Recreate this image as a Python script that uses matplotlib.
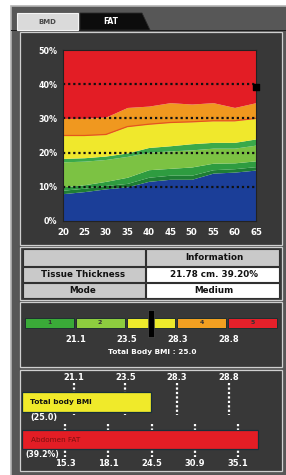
import matplotlib.pyplot as plt
import numpy as np
from matplotlib.patches import Rectangle, Polygon

W, H = 286, 475
plt.rcParams['font.family'] = ['DejaVu Sans']
plt.rcParams['font.weight'] = 'bold'

# ── data ─────────────────────────────────────────────────────────────────────
ages = [20, 25, 30, 35, 40, 45, 50, 55, 60, 65]
# upper edge of each band (body fat %), bottom band first
blue_top    = [8.0, 8.6, 9.4, 10.0, 11.6, 12.2, 12.2, 14.0, 14.3, 14.9]
dkgreen_top = [9.0, 9.6, 10.4, 11.0, 12.8, 13.4, 13.4, 15.0, 15.3, 15.9]
green_top   = [10.0, 10.6, 11.6, 12.8, 15.0, 15.4, 15.8, 16.9, 17.0, 17.6]
ltgreen_top = [17.3, 17.5, 18.0, 18.9, 20.1, 20.5, 20.8, 21.3, 21.3, 22.2]
strip_top   = [18.3, 18.5, 19.0, 19.9, 21.5, 22.0, 22.6, 23.0, 23.0, 24.0]
yellow_top  = [25.0, 25.0, 25.3, 27.6, 28.3, 28.8, 29.0, 29.3, 29.3, 30.0]
orange_top  = [30.0, 30.0, 30.4, 33.2, 33.6, 34.6, 34.2, 34.6, 33.2, 34.6]
red_top     = [50.0] * len(ages)
fat_yticks = [0, 10, 20, 30, 40, 50]
measured_fat = 39.2

table_rows = [("", "Information"),
              ("Tissue Thickness", "21.78 cm. 39.20%"),
              ("Mode", "Medium")]

bmi_classes = ["1", "2", "3", "4", "5"]
bmi_bounds = ["21.1", "23.5", "28.3", "28.8"]
bmi_value = 25.0
bmi_marker_pos = 2.48      # on the class scale (one unit per class)

fat_ticks = ["15.3", "18.1", "24.5", "30.9", "35.1"]
bmi_bar_pos = 1.5          # bar end, on the tick scale
fat_bar_pos = 4.45
fat_value = 39.2

# ── styles ───────────────────────────────────────────────────────────────────
band_colors = ["#1b3e98", "#1e7d34", "#2e9c40", "#7cc243", "#3aa94a",
               "#f0e82c", "#f0981f", "#e31d25"]
class_colors = ["#3aaa38", "#8dcd3f", "#ecea2c", "#f1a021", "#e5202a"]
PANEL = "#383838"
FRAME = "#575757"
EDGE = "#cfcfcf"


def px_axes(x0, y0, x1, y1):
    return fig.add_axes([x0 / W, 1 - y1 / H, (x1 - x0) / W, (y1 - y0) / H])


fig = plt.figure(figsize=(W / 100, H / 100), dpi=100)
bg = fig.add_axes([0, 0, 1, 1])
bg.set_xlim(0, W)
bg.set_ylim(H, 0)
bg.axis("off")

# frame, tabs
bg.add_patch(Rectangle((11, 6), 280, 475, fc=FRAME, ec="#b4b4b4", lw=1.2))
bg.add_patch(Rectangle((11, 29.5), 280, 1.5, fc="#1e1e1e", lw=0))
bg.add_patch(Rectangle((17, 13), 61, 17, fc="#dadada", ec="#f4f4f4", lw=0.8))
bg.text(47, 22, "BMD", ha="center", va="center", fontsize=5, color="#4a4a4a")
bg.add_patch(Polygon([(80, 13), (142, 13), (150, 30), (80, 30)],
                     fc="#0c0c0c", ec="#2a2a2a", lw=0.6))
bg.text(111, 21.5, "FAT", ha="center", va="center", fontsize=5.5, color="white")

# panels
for (y0, y1) in [(32, 245), (247, 300), (302, 367), (370, 471)]:
    bg.add_patch(Rectangle((20, y0), 262, y1 - y0, fc=PANEL, ec=EDGE, lw=0.9))

# ── fat % by age chart ───────────────────────────────────────────────────────
ax = px_axes(63, 50, 256, 221)
tops = [blue_top, dkgreen_top, green_top, ltgreen_top, strip_top,
        yellow_top, orange_top, red_top]
lower = np.zeros(len(ages))
for top, c in zip(tops, band_colors):
    ax.fill_between(ages, lower, top, color=c, lw=0)
    lower = np.array(top)
ax.plot(ages, yellow_top, color="#e4561c", lw=0.9)
for y in fat_yticks[1:-1]:
    ax.axhline(y, color="#111111", lw=1.6, ls=(0, (1, 1.3)))
ax.scatter([ages[-1]], [measured_fat], marker="s", s=14, color="black",
           clip_on=False, zorder=5)
ax.set_xlim(ages[0], ages[-1])
ax.set_ylim(fat_yticks[0], fat_yticks[-1])
ax.set_xticks(ages)
ax.set_xticklabels([str(a) for a in ages], fontsize=6.2, color="white")
ax.set_yticks(fat_yticks)
ax.set_yticklabels([f"{v}%" for v in fat_yticks], fontsize=5.8, color="white")
ax.tick_params(length=0, pad=5)
ax.tick_params(axis="y", pad=4)
for s in ax.spines.values():
    s.set_color("#222222")
    s.set_linewidth(0.8)

# ── information table ────────────────────────────────────────────────────────
row_y = [(249, 266), (267, 282), (283, 298)]
for i, ((left, right), (y0, y1)) in enumerate(zip(table_rows, row_y)):
    right_fc = "#c9c9c9" if i == 0 else "white"
    bg.add_patch(Rectangle((23, y0), 122, y1 - y0, fc="#c9c9c9", ec="#303030", lw=0.8))
    bg.add_patch(Rectangle((146, y0), 133, y1 - y0, fc=right_fc, ec="#303030", lw=0.8))
    bg.text(83, (y0 + y1) / 2, left, ha="center", va="center", fontsize=6.3, color="#111111")
    bg.text(214, (y0 + y1) / 2, right, ha="center", va="center", fontsize=6.3, color="#111111")

# ── BMI class scale ──────────────────────────────────────────────────────────
bx = px_axes(25, 306, 279, 346)
bx.set_xlim(0, len(bmi_classes))
bx.set_ylim(40, 0)
bx.axis("off")
bx.barh([17], [0.96] * len(bmi_classes), left=np.arange(len(bmi_classes)),
        height=10, align="center", color=class_colors, edgecolor="#1f2f2f", lw=0.7)
for i, lab in enumerate(bmi_classes):
    bx.text(i + 0.48, 17, lab, ha="center", va="center", fontsize=4.5, color="#333333")
for i, lab in enumerate(bmi_bounds):
    bx.text(i + 1, 33, lab, ha="center", va="center", fontsize=6, color="white")
bx.add_patch(Rectangle((bmi_marker_pos - 0.05, 4), 0.1, 27, fc="black", ec="#555555",
                       lw=0.4, clip_on=False, zorder=5))
bg.text(152, 352, f"Total Body BMI : {bmi_value}", ha="center", va="center",
        fontsize=5.3, color="white")

# ── bar comparison ───────────────────────────────────────────────────────────
top = px_axes(22, 372, 280.5, 421)
top.set_xlim(-1, len(bmi_bounds))
top.set_ylim(49, 0)
top.axis("off")
for i, lab in enumerate(bmi_bounds):
    top.text(i, 6, lab, ha="center", va="center", fontsize=6, color="white")
    top.vlines(i, 11, 43, color="white", lw=1.6, ls=(0, (1, 1)), zorder=1)
top.barh([30], [bmi_bar_pos + 1], left=-1, height=20, color="#f0ea2a",
         edgecolor="#17303a", lw=0.9, zorder=3)
top.text(-0.84, 30, "Total body BMI", ha="left", va="center", fontsize=5.3,
         color="#111111", zorder=4)
top.text(-0.84, 45.5, f"({bmi_value})", ha="left", va="center", fontsize=5.8,
         color="white", zorder=4)

bot = px_axes(22, 421, 281.5, 470)
bot.set_xlim(-1, len(fat_ticks))
bot.set_ylim(49, 0)
bot.axis("off")
for i, lab in enumerate(fat_ticks):
    bot.vlines(i, 3, 36, color="white", lw=1.6, ls=(0, (1, 1)), zorder=1)
    bot.text(i, 42, lab, ha="center", va="center", fontsize=6, color="white")
bot.barh([18.5], [fat_bar_pos + 1], left=-1, height=19, color="#e31d25",
         edgecolor="#17303a", lw=0.9, zorder=3)
bot.text(-0.8, 18.5, "Abdomen FAT", ha="left", va="center", fontsize=5.2,
         color="#7a1010", weight="normal", zorder=4)
bot.text(-0.93, 34, f"({fat_value}%)", ha="left", va="center", fontsize=5.6,
         color="white", zorder=4)

fig.savefig("out.png", dpi=100, facecolor="white")
